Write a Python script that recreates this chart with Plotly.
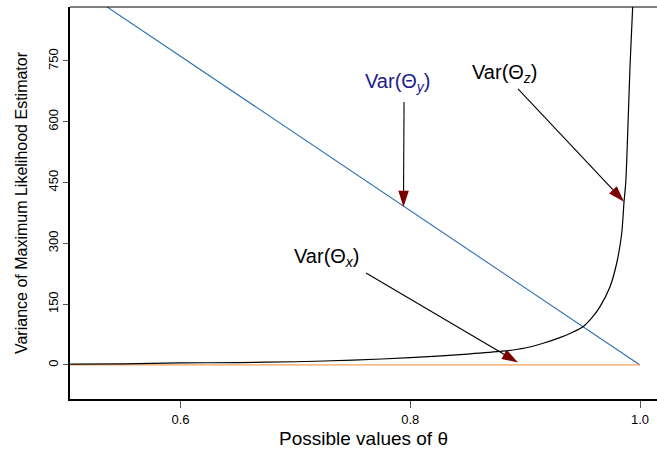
import plotly.graph_objects as go

# ---- data ----
theta_y = [0.50, 0.60, 0.70, 0.80, 0.90, 1.00]
var_y = [952, 762, 571, 381, 190, 0]

theta_x = [0.50, 0.60, 0.70, 0.80, 0.90, 1.00]
var_x = [0.3, 0.3, 0.3, 0.3, 0.3, 0.3]

theta_z = [0.504, 0.55, 0.60, 0.65, 0.70, 0.75, 0.80, 0.85, 0.88, 0.90, 0.915,
           0.9308, 0.94, 0.9507, 0.958, 0.9652, 0.9739, 0.9797, 0.9841, 0.9861,
           0.9876, 0.9893, 0.9913, 0.9936, 0.995]
var_z = [2, 3, 5, 6, 8, 12, 18, 27, 34, 42, 53, 68, 79, 95, 116, 144, 193, 251,
         325, 403, 450, 572, 736, 882, 1000]

x_ticks = [0.6, 0.8, 1.0]
x_tick_labels = ["0.6", "0.8", "1.0"]
y_ticks = [0, 150, 300, 450, 600, 750]
y_tick_labels = ["0", "150", "300", "450", "600", "750"]

# annotation labels: (text, label position, arrow tail, arrow tip, colour)
labels = [
    ("Var(Θ<sub><i>y</i></sub>)", (0.7893, 696), (0.7946, 649), (0.7941, 390), "#1c1c8c"),
    ("Var(Θ<sub><i>z</i></sub>)", (0.8825, 720), (0.8938, 681), (0.9861, 403), "black"),
    ("Var(Θ<sub><i>x</i></sub>)", (0.7275, 264), (0.7615, 227), (0.8938, 6), "black"),
]

FONT = "Liberation Sans, Arial, Helvetica, sans-serif"

fig = go.Figure()
fig.add_trace(go.Scatter(x=theta_y, y=var_y, mode="lines",
                         line=dict(color="#2a6db0", width=1.1), hoverinfo="skip"))
fig.add_trace(go.Scatter(x=theta_x, y=var_x, mode="lines",
                         line=dict(color="#f4a15c", width=1.3), hoverinfo="skip"))
fig.add_trace(go.Scatter(x=theta_z, y=var_z, mode="lines",
                         line=dict(color="black", width=1.2, shape="spline", smoothing=0.8),
                         hoverinfo="skip"))

for text, pos, tail, tip, col in labels:
    fig.add_trace(go.Scatter(
        x=[tail[0], tip[0]], y=[tail[1], tip[1]], mode="lines+markers",
        line=dict(color="black", width=1.1),
        marker=dict(symbol="arrow", size=[0, 17], angleref="previous",
                    color="#7a0000", opacity=1, line=dict(width=0)),
        hoverinfo="skip"))
    fig.add_annotation(x=pos[0], y=pos[1], text=text, showarrow=False,
                       font=dict(family=FONT, size=20, color=col),
                       xanchor="center", yanchor="middle")

fig.add_shape(type="line", xref="paper", yref="paper", x0=0, x1=1, y0=1, y1=1,
              line=dict(color="black", width=1))

fig.update_layout(
    width=657, height=455,
    margin=dict(l=70, r=0, t=7, b=56),
    paper_bgcolor="white", plot_bgcolor="white",
    showlegend=False,
    font=dict(family=FONT, color="black"),
    xaxis=dict(range=[0.5038, 1.0148], tickvals=x_ticks, ticktext=x_tick_labels,
               showgrid=False, zeroline=False, showline=True, linecolor="black",
               linewidth=2, ticks="outside", ticklen=7, tickcolor="#555",
               tickfont=dict(size=13), automargin=False,
               title=dict(text="Possible values of θ", font=dict(size=19), standoff=6)),
    yaxis=dict(range=[-83.9, 883.2], tickvals=y_ticks, ticktext=y_tick_labels,
               showgrid=False, zeroline=False, showline=True, linecolor="black",
               linewidth=2, ticks="outside", ticklen=5, tickcolor="#555",
               tickangle=-90, tickfont=dict(size=13), automargin=False,
               title=dict(text="Variance of Maximum Likelihood Estimator",
                          font=dict(size=16), standoff=14)),
)

fig.write_html("out.html", config={"displayModeBar": False},
               post_script="document.body.style.margin='0px';document.body.style.padding='0px';")
